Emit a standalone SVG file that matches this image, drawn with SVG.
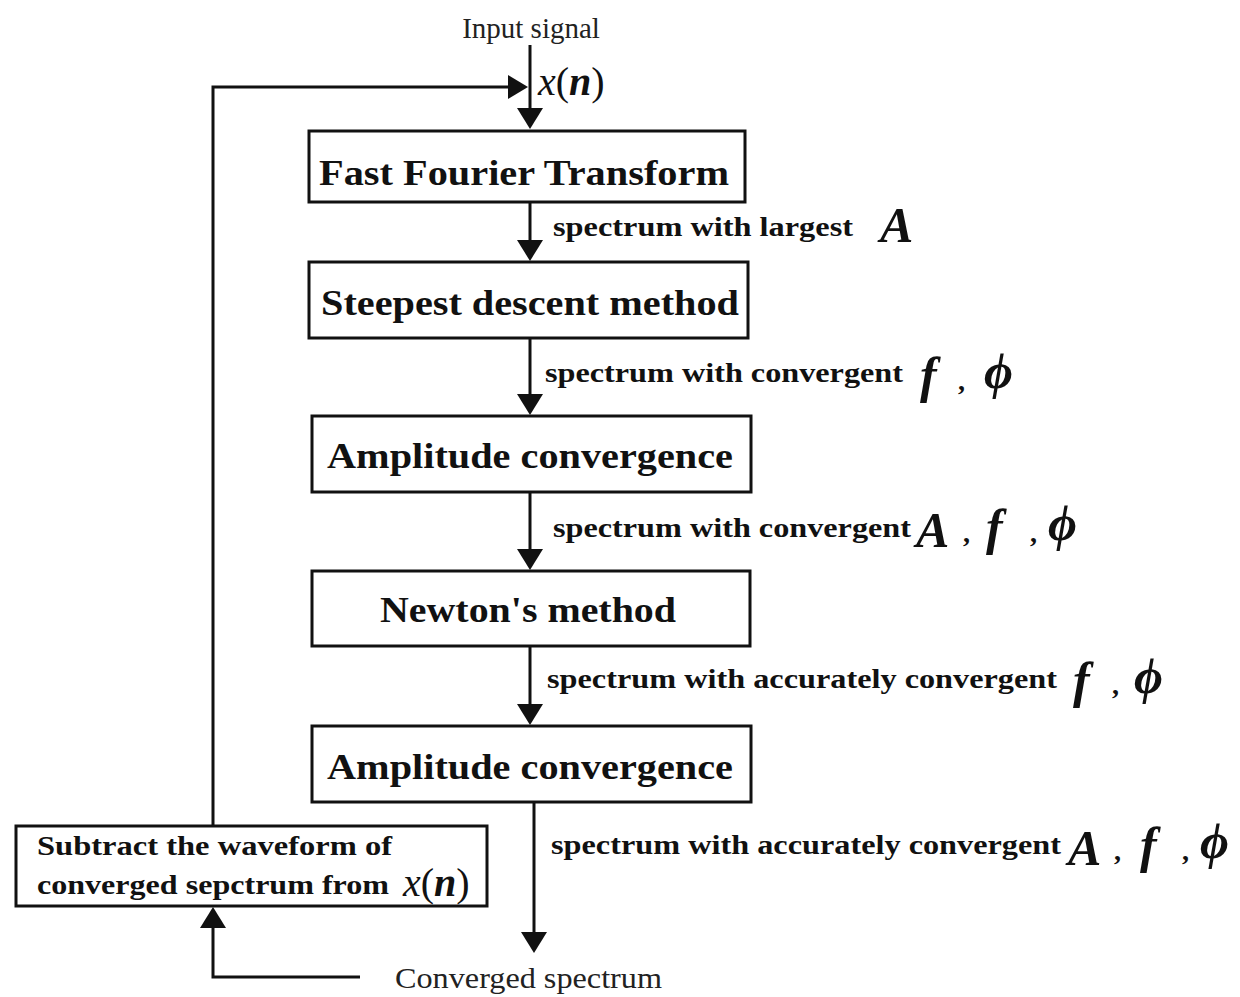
<svg xmlns="http://www.w3.org/2000/svg" width="1240" height="997" viewBox="0 0 1240 997">
<style>
.box{fill:#fff;stroke:#111;stroke-width:3}
.bt{font-family:"Liberation Serif","Times New Roman",serif;font-weight:bold;font-size:36px;fill:#111;text-anchor:middle}
.lb{font-family:"Liberation Serif","Times New Roman",serif;font-weight:bold;font-size:28px;fill:#111}
.rg{font-family:"Liberation Serif","Times New Roman",serif;font-size:29px;fill:#222}
.mi{font-family:"Liberation Serif","Times New Roman",serif;font-style:italic;font-weight:bold;font-size:50px;fill:#111}
.mr{font-family:"Liberation Serif","Times New Roman",serif;font-style:italic;font-size:40px;fill:#111}
.ln{fill:none;stroke:#111;stroke-width:3}
</style>
<defs>
<marker id="ah" markerWidth="10" markerHeight="10" refX="9" refY="5" orient="auto" markerUnits="userSpaceOnUse" viewBox="0 0 10 10">
<path d="M0,0 L10,5 L0,10 z" fill="#111"/>
</marker>
</defs>
<rect width="1240" height="997" fill="#fff"/>
<g id="connectors">
<line class="ln" x1="530" y1="45" x2="530" y2="108"/>
<path d="M517,108 L543,108 L530,129 z" fill="#111"/>
<polyline class="ln" points="213,826 213,87 510,87"/>
<path d="M508,75 L508,99 L528,87 z" fill="#111"/>
<line class="ln" x1="530" y1="202" x2="530" y2="240"/>
<path d="M517,240 L543,240 L530,261 z" fill="#111"/>
<line class="ln" x1="530" y1="338" x2="530" y2="394"/>
<path d="M517,394 L543,394 L530,415 z" fill="#111"/>
<line class="ln" x1="530" y1="492" x2="530" y2="549"/>
<path d="M517,549 L543,549 L530,570 z" fill="#111"/>
<line class="ln" x1="530" y1="646" x2="530" y2="704"/>
<path d="M517,704 L543,704 L530,725 z" fill="#111"/>
<line class="ln" x1="534" y1="802" x2="534" y2="932"/>
<path d="M521,932 L547,932 L534,953 z" fill="#111"/>
<polyline class="ln" points="360,977 213,977 213,927"/>
<path d="M200,928 L226,928 L213,907 z" fill="#111"/>
</g>
<g id="input">
<text class="rg" x="531" y="38" text-anchor="middle" font-size="28">Input signal</text>
<text class="mr" x="538" y="95"><tspan>x</tspan><tspan font-style="normal">(</tspan><tspan font-weight="bold">n</tspan><tspan font-style="normal">)</tspan></text>
</g>
<g id="fft">
<rect class="box" x="309" y="131" width="436" height="71"/>
<text class="bt" x="524" y="185" textLength="410" lengthAdjust="spacingAndGlyphs">Fast Fourier Transform</text>
</g>
<g id="steepest">
<rect class="box" x="309" y="262" width="439" height="76"/>
<text class="bt" x="530" y="315" textLength="418" lengthAdjust="spacingAndGlyphs">Steepest descent method</text>
</g>
<g id="amp1">
<rect class="box" x="312" y="416" width="439" height="76"/>
<text class="bt" x="530" y="468" textLength="406" lengthAdjust="spacingAndGlyphs">Amplitude convergence</text>
</g>
<g id="newton">
<rect class="box" x="312" y="571" width="438" height="75"/>
<text class="bt" x="528" y="622" textLength="296" lengthAdjust="spacingAndGlyphs">Newton's method</text>
</g>
<g id="amp2">
<rect class="box" x="312" y="726" width="439" height="76"/>
<text class="bt" x="530" y="779" textLength="406" lengthAdjust="spacingAndGlyphs">Amplitude convergence</text>
</g>
<g id="subtract">
<rect class="box" x="16" y="826" width="471" height="80"/>
<text class="lb" x="37" y="855" textLength="355" lengthAdjust="spacingAndGlyphs">Subtract the waveform of</text>
<text class="lb" x="37" y="894" textLength="352" lengthAdjust="spacingAndGlyphs">converged sepctrum from</text>
<text class="mr" x="403" y="896" font-size="42"><tspan>x</tspan><tspan font-style="normal">(</tspan><tspan font-weight="bold">n</tspan><tspan font-style="normal">)</tspan></text>
</g>
<g id="labels">
<text class="lb" x="553" y="236" textLength="300" lengthAdjust="spacingAndGlyphs">spectrum with largest</text>
<text class="mi" x="880" y="242">A</text>
<text class="lb" x="545" y="382" textLength="358" lengthAdjust="spacingAndGlyphs">spectrum with convergent</text>
<text class="mi" x="920" y="392">f</text><text class="lb" x="958" y="390">,</text><text class="mi" x="984" y="388">ϕ</text>
<text class="lb" x="553" y="537" textLength="358" lengthAdjust="spacingAndGlyphs">spectrum with convergent</text>
<text class="mi" x="916" y="547">A</text><text class="lb" x="963" y="542">,</text><text class="mi" x="986" y="544">f</text><text class="lb" x="1030" y="542">,</text><text class="mi" x="1048" y="540">ϕ</text>
<text class="lb" x="547" y="688" textLength="510" lengthAdjust="spacingAndGlyphs">spectrum with accurately convergent</text>
<text class="mi" x="1073" y="697">f</text><text class="lb" x="1112" y="694">,</text><text class="mi" x="1134" y="693">ϕ</text>
<text class="lb" x="551" y="854" textLength="510" lengthAdjust="spacingAndGlyphs">spectrum with accurately convergent</text>
<text class="mi" x="1068" y="865">A</text><text class="lb" x="1114" y="860">,</text><text class="mi" x="1140" y="862">f</text><text class="lb" x="1182" y="860">,</text><text class="mi" x="1200" y="858">ϕ</text>
</g>
<g id="output">
<text class="rg" x="395" y="988" textLength="267" lengthAdjust="spacingAndGlyphs">Converged spectrum</text>
</g>
</svg>
